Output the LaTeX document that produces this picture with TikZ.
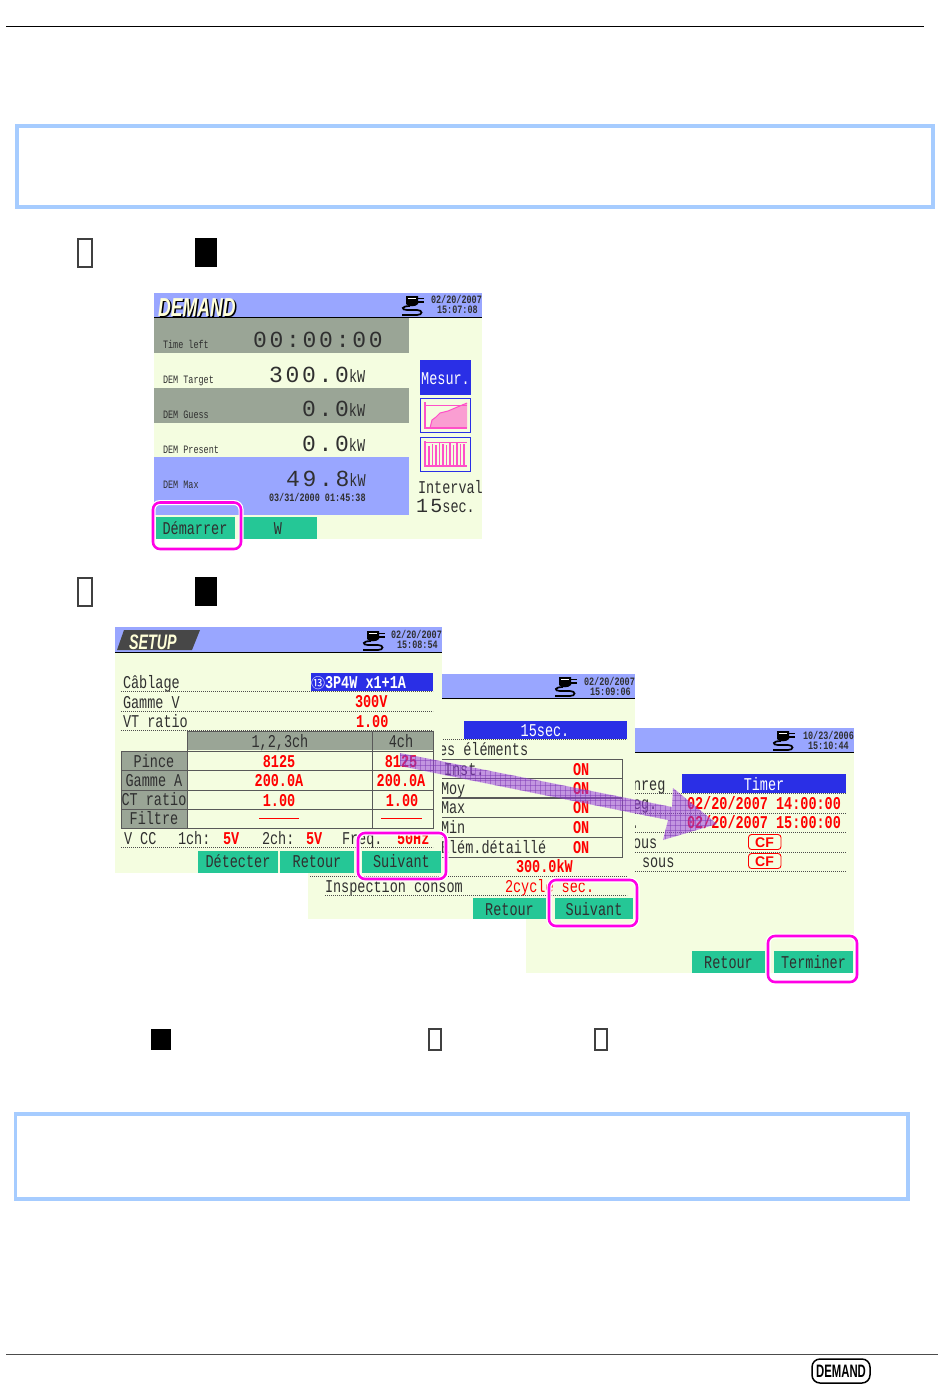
\documentclass[tikz,border=0pt]{standalone}
\usepackage{fontspec}
\setmainfont{Liberation Sans}
\newfontfamily\lcdf[FakeStretch=0.75]{Liberation Mono}
\newfontfamily\lcdg[LetterSpace=12]{Liberation Mono}
\newfontfamily\logof[FakeStretch=0.68]{Liberation Sans}
\newfontfamily\badgef[FakeStretch=0.63]{Liberation Sans}
\newfontfamily\circf{Noto Sans CJK SC}
\newcommand\fM{\fontsize{18}{18}\selectfont\lcdf}
\newcommand\fB{\fontsize{18}{18}\selectfont\lcdf\bfseries}
\newcommand\fS{\fontsize{11.3}{11.3}\selectfont\lcdf}
\newcommand\fSB{\fontsize{11.3}{11.3}\selectfont\lcdf\bfseries}
\newcommand\fG{\fontsize{23}{23}\selectfont\lcdg}
\newcommand\fH{\fontsize{20}{20}\selectfont\lcdg}
\definecolor{scr}{HTML}{F4FDE0}
\definecolor{hdr}{HTML}{99A6FF}
\definecolor{gry}{HTML}{9AA596}
\definecolor{grn}{HTML}{25C796}
\definecolor{sel}{HTML}{2A2FE6}
\definecolor{mag}{HTML}{FF00E6}
\definecolor{ico}{HTML}{FF50C8}
\definecolor{frm}{HTML}{A6CCFF}
\definecolor{ink}{HTML}{303030}
\definecolor{red2}{HTML}{FF0000}
\definecolor{arrowc}{HTML}{9A40E0}
\definecolor{cream}{HTML}{FFFFD8}
\newcount\nc
\newcommand\labW[4][]{\global\advance\nc by 1 \node[txt,anchor=base west,#1] (t\the\nc) at (#2,#3) {#4};}
\newcommand\labC[4][]{\global\advance\nc by 1 \node[txt,anchor=base,#1] (t\the\nc) at (#2,#3) {#4};}
\newcommand\btn[7]{\fill[grn] (#1,#2) rectangle (#3,#4); \labC[font=\fM,text=ink]{#6}{#7}{#5}}
\tikzset{
 txt/.style={inner sep=0pt,outer sep=0pt,text=ink,font=\fM},
 red/.style={text=red2,font=\fB},
 redthin/.style={text=red2,font=\fM},
 dots/.style={line width=.6pt,dash pattern=on .9pt off 1.1pt,draw=black!70},
 grid/.style={line width=1pt,draw=black!65},
 halo/.style={draw=white,line width=5pt,rounded corners=7pt},
 pk/.style={draw=mag,line width=2.6pt,rounded corners=7pt},
 frame/.style={draw=frm,line width=3.4pt},
 tofu/.style={draw=black!75,line width=1.1pt,fill=white},
 blk/.style={fill=black},
}
\newcommand\plug[2]{\begin{scope}[shift={(#1,#2)}]
 \fill[black] (5,1) -- (17,1) -- (17,9) .. controls (15,12) and (7,12) .. (5,9) -- cycle;
 \fill[white] (7,2.5) rectangle (15,4);
 \draw[black,line width=1.3pt] (17,3.5) -- (23,3.5) (17,7) -- (23,7);
 \draw[black,line width=1.7pt] (9,11) .. controls (0,11) and (0,15) .. (6,15) -- (16,15) .. controls (22,15) and (22,20) .. (16,20) -- (1,20);
\end{scope}}
\newcommand\pinkrect[4]{\draw[halo] (#1,#2) rectangle (#3,#4); \draw[pk] (#1,#2) rectangle (#3,#4);}
\begin{document}
\begin{tikzpicture}[x=1pt,y=-1pt]
\useasboundingbox (0,0) rectangle (950,1395);
\fill[white] (0,0) rectangle (950,1395);
% page rules and frames
\draw[black,line width=1pt] (6,26.5) -- (924,26.5);
\draw[black!70,line width=1pt] (6,1354.5) -- (938,1354.5);
\draw[frame] (17,126) rectangle (933,207);
\draw[frame] (15.5,1114) rectangle (908,1199);
% missing-glyph boxes
\draw[tofu] (78,239) rectangle (92,267);
\fill[blk] (195,238) rectangle (217,267);
\draw[tofu] (78,578) rectangle (92,606);
\fill[blk] (195,577) rectangle (217,606);
\fill[blk] (151,1029) rectangle (171,1050);
\draw[tofu] (429,1029) rectangle (441,1050);
\draw[tofu] (595,1029) rectangle (607,1050);

% ---------- screen 1
\fill[scr] (154,293) rectangle (482,539);
\fill[hdr] (154,293) rectangle (482,317);
\draw[black,line width=.9pt] (154,317.5) -- (482,317.5);
\labW[font=\logof\fontsize{26}{26}\selectfont\bfseries\itshape,text=black]{159.5}{317.5}{DEMAND}
\labW[font=\logof\fontsize{26}{26}\selectfont\bfseries\itshape,text=cream]{158}{316}{DEMAND}
\plug{401}{295}
\labW[font=\fSB]{431}{303}{02/20/2007}
\labW[font=\fSB]{437}{313}{15:07:08}
\fill[gry] (154,318) rectangle (409,353);
\fill[gry] (154,388) rectangle (409,423);
\fill[hdr] (154,457) rectangle (409,515);
\labW[font=\fS]{163}{348}{Time left}
\labW[font=\fS]{163}{383}{DEM Target}
\labW[font=\fS]{163}{418}{DEM Guess}
\labW[font=\fS]{163}{453}{DEM Present}
\labW[font=\fS]{163}{488}{DEM Max}
\labW[font=\fG]{253}{347}{00:00:00}
\labW{269}{382}{{\fG 300.0}{\fM kW}}
\labW{302}{416}{{\fG 0.0}{\fM kW}}
\labW{302}{451}{{\fG 0.0}{\fM kW}}
\labW{286}{486}{{\fG 49.8}{\fM kW}}
\labW[font=\fSB]{269}{501}{03/31/2000 01:45:38}
\fill[sel] (420,360) rectangle (471,395);
\labC[text=white]{445.5}{384}{Mesur.}
\draw[sel,line width=.8pt] (420.5,398.5) rectangle (470.5,432.5);
\draw[ico,line width=.6pt] (425,405) -- (467,405);
\fill[ico,opacity=.55] (430,428) -- (432,420) -- (436,417) -- (440,413) -- (448,411) -- (455,408) -- (467,403) -- (467,428) -- cycle;
\draw[ico,line width=1pt] (430,428) -- (432,420) -- (436,417) -- (440,413) -- (448,411) -- (455,408) -- (467,403);
\draw[ico,line width=2pt] (425,402) -- (425,428) -- (467,428);
\draw[sel,line width=.8pt] (420.5,437.5) rectangle (470.5,471);
\draw[ico,line width=.6pt] (425,442) -- (467,442);
\draw[ico,line width=2pt] (425,441) -- (425,466) -- (467,466);
\foreach \bx/\bt in {429/446,432.5/444,436/445,439.5/443,443/444,446.5/445,450/443,453.5/445,457/442,460.5/444,464/444}{
 \draw[ico,line width=1.7pt] (\bx,\bt) -- (\bx,466);
}
\labW{418}{493}{Interval}
\labW{416}{512}{{\fH 15}{\fM sec.}}
\btn{156}{517}{235}{539}{Démarrer}{195}{534}
\btn{243}{517}{317}{539}{W}{278}{534}
\pinkrect{153}{502.5}{241}{549}

% ---------- screen 4 (lowest)
\fill[scr] (526,728) rectangle (854,973);
\fill[hdr] (526,728) rectangle (854,752);
\draw[black,line width=.9pt] (526,752.5) -- (854,752.5);
\plug{772}{730}
\labW[font=\fSB]{803}{739}{10/23/2006}
\labW[font=\fSB]{808}{749}{15:10:44}
\fill[sel] (682,774) rectangle (846,793);
\labC[text=white]{764}{790}{Timer}
\foreach \yy in {793.5,813,832.5,852,871}{\draw[dots] (635,\yy) -- (846,\yy);}
\labW{633}{790}{nreg}
\labW{633}{809}{eg.}
\labW{631}{828}{ .}
\labW{633}{848}{ous}
\labW{642}{867}{sous}
\labW[red]{687}{809}{02/20/2007 14:00:00}
\labW[red]{687}{828}{02/20/2007 15:00:00}
\draw[red2,line width=.9pt,rounded corners=3pt] (748.5,834.5) rectangle (781,849.5);
\labC[font=\fontsize{14}{14}\selectfont\bfseries,text=red2]{764.5}{847}{CF}
\draw[red2,line width=.9pt,rounded corners=3pt] (748.5,853.5) rectangle (781,868.5);
\labC[font=\fontsize{14}{14}\selectfont\bfseries,text=red2]{764.5}{866}{CF}
\btn{692}{951}{765}{973}{Retour}{728.5}{968}
\btn{774}{951}{853}{973}{Terminer}{813.5}{968}

% ---------- screen 3
\fill[scr] (308,674) rectangle (635,919);
\fill[hdr] (308,674) rectangle (635,698);
\draw[black,line width=.9pt] (308,698.5) -- (635,698.5);
\plug{554}{676}
\labW[font=\fSB]{584}{685}{02/20/2007}
\labW[font=\fSB]{590}{695}{15:09:06}
\fill[sel] (464,721) rectangle (627,739);
\labC[text=white]{545}{736}{15sec.}
\draw[dots] (435,739.5) -- (627,739.5);
\labW{439}{755}{es éléments}
\draw[grid,line width=.8pt] (435,759.5) rectangle (622.5,857);
\foreach \yy in {778.5,817.5,837}{\draw[grid,line width=.8pt] (435,\yy) -- (622.5,\yy);}
\draw[grid,line width=1.6pt] (435,798) -- (622.5,798);
\labW{444}{775}{Inst.}
\labW{441}{794}{Moy}
\labW{441}{813}{Max}
\labW{441}{833}{Min}
\labW{441}{853}{Élém.détaillé}
\foreach \yy in {775,794,813,833,853}{\labW[red]{573}{\yy}{ON}}
\labW[red]{516}{872}{300.0kW}
\draw[dots] (310,876) -- (627,876);
\labW{325}{892}{Inspection consom}
\labW[redthin]{505}{892}{2cycle sec.}
\draw[dots] (325,895) -- (627,895);
\btn{473}{898}{546}{919}{Retour}{509.5}{915}
\btn{555}{898}{633}{919}{Suivant}{594}{915}

% ---------- screen 2
\fill[scr] (115,627) rectangle (442,873);
\fill[hdr] (115,627) rectangle (442,652);
\draw[black,line width=.9pt] (115,652) -- (442,652);
\fill[black!72] (124,630) -- (200,630) -- (192,650) -- (117,650) -- cycle;
\labW[font=\logof\fontsize{21}{21}\selectfont\bfseries\itshape,text=cream]{129}{649}{SETUP}
\plug{362}{630}
\labW[font=\fSB]{391}{638}{02/20/2007}
\labW[font=\fSB]{397}{648}{15:08:54}
\fill[sel] (311,673) rectangle (433,691);
\labW[text=white,font=\fB]{311}{688}{{\circf\fontsize{14}{14}\selectfont\mdseries ⑬}3P4W x1+1A}
\labW{123}{688}{Câblage}
\labW{123}{708}{Gamme V}
\labW{123}{727}{VT ratio}
\labW[red]{355}{707}{300V}
\labW[red]{356}{727}{1.00}
\foreach \yy in {691.5,711,730.5}{\draw[dots] (121,\yy) -- (433,\yy);}
\fill[gry] (187,731.5) rectangle (433,750);
\fill[gry] (121,751) rectangle (187,828);
\draw[grid] (187,731) rectangle (433,828);
\draw[grid] (121,751) rectangle (187,828);
\foreach \yy in {751,770,790,809}{\draw[grid] (121,\yy) -- (433,\yy);}
\draw[grid] (372,731) -- (372,828);
\labC{280}{747}{1,2,3ch}
\labC{401}{747}{4ch}
\labC{154}{767}{Pince}
\labC{154}{786}{Gamme A}
\labC{154}{805}{CT ratio}
\labC{154}{824}{Filtre}
\labC[red]{279}{767}{8125}
\labC[red]{401}{767}{8125}
\labC[red]{279}{786}{200.0A}
\labC[red]{401}{786}{200.0A}
\labC[red]{279}{806}{1.00}
\labC[red]{402}{806}{1.00}
\draw[red2,line width=.9pt] (259,818) -- (299,818);
\draw[red2,line width=.9pt] (381,818) -- (422,818);
\labW{124}{844}{V CC}
\labW{178}{844}{1ch:}
\labW[red]{223}{844}{5V}
\labW{262}{844}{2ch:}
\labW[red]{306}{844}{5V}
\labW{342}{844}{Freq.}
\labW[red]{397}{844}{50Hz}
\draw[dots] (121,847) -- (433,847);
\btn{198}{851}{278}{873}{Détecter}{238}{867}
\btn{280}{851}{354}{873}{Retour}{317}{867}
\btn{362}{851}{441}{873}{Suivant}{401.5}{867}

% ---------- call-out rounded rectangles
\pinkrect{358}{833}{446}{879}
\pinkrect{549}{880}{637}{926}
\pinkrect{768}{936}{857}{982}

% ---------- purple arrow
\begin{scope}
 \path[clip] (400,753) -- (672,807) -- (673,788) -- (717,824) -- (663,840) -- (668,820) -- (400,766) -- cycle;
 \fill[arrowc,opacity=.55] (395,745) rectangle (720,845);
 \foreach \gx in {400,405,...,720}{\draw[arrowc!80!black,opacity=.45,line width=.4pt] (\gx,745) -- (\gx,845);}
 \foreach \gy in {750,755,...,845}{\draw[arrowc!80!black,opacity=.45,line width=.4pt] (395,\gy) -- (720,\gy);}
\end{scope}

% ---------- DEMAND badge
\node[draw=black,line width=1.5pt,rounded corners=8pt,fill=white,minimum width=58pt,minimum height=24pt,inner sep=0pt,font=\badgef\fontsize{18}{18}\selectfont\bfseries,text=black] (badge) at (841,1371) {DEMAND};
\end{tikzpicture}
\end{document}
